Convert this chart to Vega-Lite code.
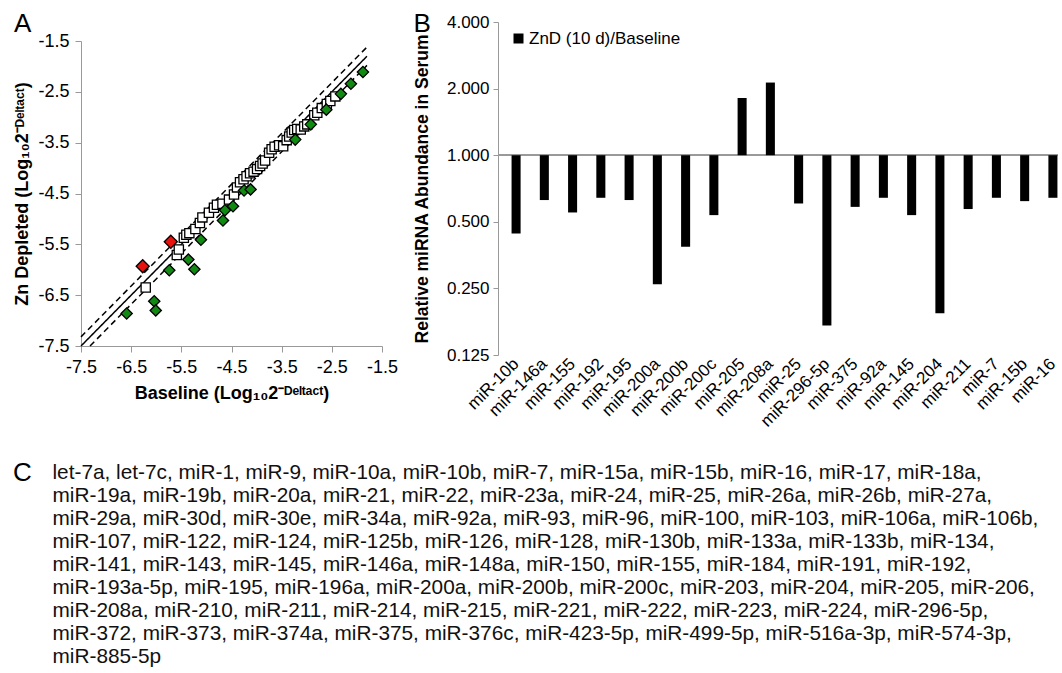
{
  "$schema": "https://vega.github.io/schema/vega-lite/v6.json",
  "padding": {"left": 12, "top": 11, "right": 0, "bottom": 0},
  "config": {
    "font": "Liberation Sans",
    "view": {"stroke": null},
    "axis": {"labelColor": "black", "titleColor": "black", "domainColor": "#999999", "tickColor": "#999999", "grid": false, "labelFont": "Liberation Sans", "titleFont": "Liberation Sans"},
    "title": {"font": "Liberation Sans", "fontWeight": "normal", "color": "black"},
    "text": {"font": "Liberation Sans", "color": "black"}
  },
  "spacing": 30,
  "resolve": {"scale": {"color": "independent"}, "legend": {"color": "independent"}},
  "vconcat": [
    {
      "spacing": 15,
      "resolve": {"scale": {"color": "independent"}, "legend": {"color": "independent"}},
      "hconcat": [
        {
          "width": 301,
          "height": 324,
          "title": {"text": "A", "anchor": "start", "frame": "bounds", "fontSize": 26, "offset": -15},
          "layer": [
            {
              "data": {"values": [
                {"line": "solid", "style": "solid", "bx": -7.5, "zn": -7.5},
                {"line": "solid", "style": "solid", "bx": -1.8, "zn": -1.8},
                {"line": "upper", "style": "dashed", "bx": -7.5, "zn": -7.32},
                {"line": "upper", "style": "dashed", "bx": -1.8, "zn": -1.62},
                {"line": "lower", "style": "dashed", "bx": -7.32, "zn": -7.5},
                {"line": "lower", "style": "dashed", "bx": -1.8, "zn": -1.98}
              ]},
              "mark": {"type": "line", "color": "black", "strokeWidth": 1.5},
              "encoding": {
                "x": {"field": "bx", "type": "quantitative", "scale": {"domain": [-7.5, -1.5], "nice": false, "zero": false},
                  "axis": {"title": "Baseline (Log₁₀2⁻ᴰᵉˡᵗᵃᶜᵗ)", "values": [-7.5, -6.5, -5.5, -4.5, -3.5, -2.5, -1.5], "format": ".1f", "labelExpr": "replace(datum.label, '−', '-')", "labelFontSize": 18, "titleFontSize": 18, "titleFontWeight": "bold", "tickSize": 6, "labelPadding": 6, "titlePadding": 8, "labelFlush": false, "labelOverlap": false}},
                "y": {"field": "zn", "type": "quantitative", "scale": {"domain": [-7.5, -1.5], "range": [324, 19], "nice": false, "zero": false},
                  "axis": {"title": "Zn Depleted (Log₁₀2⁻ᴰᵉˡᵗᵃᶜᵗ)", "values": [-7.5, -6.5, -5.5, -4.5, -3.5, -2.5, -1.5], "format": ".1f", "labelExpr": "replace(datum.label, '−', '-')", "labelFontSize": 18, "titleFontSize": 18, "titleFontWeight": "bold", "tickSize": 6, "labelPadding": 6, "titlePadding": 6, "labelOverlap": false}},
                "detail": {"field": "line"},
                "strokeDash": {"field": "style", "type": "nominal", "scale": {"domain": ["solid", "dashed"], "range": [[1, 0], [6, 4]]}, "legend": null}
              }
            },
            {
              "data": {"values": [
                {"status": "ns", "bx": -6.21, "zn": -6.35},
                {"status": "ns", "bx": -5.59, "zn": -5.71},
                {"status": "ns", "bx": -5.55, "zn": -5.60},
                {"status": "ns", "bx": -5.45, "zn": -5.37},
                {"status": "ns", "bx": -5.40, "zn": -5.31},
                {"status": "ns", "bx": -5.34, "zn": -5.28},
                {"status": "ns", "bx": -5.22, "zn": -5.20},
                {"status": "ns", "bx": -5.13, "zn": -5.08},
                {"status": "ns", "bx": -5.08, "zn": -4.97},
                {"status": "ns", "bx": -4.95, "zn": -4.88},
                {"status": "ns", "bx": -4.85, "zn": -4.78},
                {"status": "ns", "bx": -4.79, "zn": -4.72},
                {"status": "ns", "bx": -4.68, "zn": -4.70},
                {"status": "ns", "bx": -4.55, "zn": -4.62},
                {"status": "ns", "bx": -4.45, "zn": -4.52},
                {"status": "ns", "bx": -4.39, "zn": -4.38},
                {"status": "ns", "bx": -4.33, "zn": -4.28},
                {"status": "ns", "bx": -4.26, "zn": -4.22},
                {"status": "ns", "bx": -4.20, "zn": -4.16},
                {"status": "ns", "bx": -4.13, "zn": -4.10},
                {"status": "ns", "bx": -4.06, "zn": -4.07},
                {"status": "ns", "bx": -3.99, "zn": -4.02},
                {"status": "ns", "bx": -3.93, "zn": -3.96},
                {"status": "ns", "bx": -3.88, "zn": -3.91},
                {"status": "ns", "bx": -3.83, "zn": -3.85},
                {"status": "ns", "bx": -3.75, "zn": -3.70},
                {"status": "ns", "bx": -3.70, "zn": -3.63},
                {"status": "ns", "bx": -3.64, "zn": -3.58},
                {"status": "ns", "bx": -3.55, "zn": -3.55},
                {"status": "ns", "bx": -3.47, "zn": -3.57},
                {"status": "ns", "bx": -3.40, "zn": -3.45},
                {"status": "ns", "bx": -3.35, "zn": -3.38},
                {"status": "ns", "bx": -3.30, "zn": -3.30},
                {"status": "ns", "bx": -3.25, "zn": -3.25},
                {"status": "ns", "bx": -3.19, "zn": -3.23},
                {"status": "ns", "bx": -3.12, "zn": -3.24},
                {"status": "ns", "bx": -3.05, "zn": -3.18},
                {"status": "ns", "bx": -2.99, "zn": -3.14},
                {"status": "ns", "bx": -2.85, "zn": -2.96},
                {"status": "ns", "bx": -2.79, "zn": -2.91},
                {"status": "ns", "bx": -2.70, "zn": -2.82},
                {"status": "ns", "bx": -2.60, "zn": -2.74},
                {"status": "ns", "bx": -2.53, "zn": -2.68},
                {"status": "ns", "bx": -2.43, "zn": -2.59},
                {"status": "down", "bx": -6.59, "zn": -6.86},
                {"status": "down", "bx": -6.04, "zn": -6.62},
                {"status": "down", "bx": -6.01, "zn": -6.80},
                {"status": "down", "bx": -5.74, "zn": -6.01},
                {"status": "down", "bx": -5.36, "zn": -5.80},
                {"status": "down", "bx": -5.24, "zn": -5.99},
                {"status": "down", "bx": -5.11, "zn": -5.41},
                {"status": "down", "bx": -4.67, "zn": -5.03},
                {"status": "down", "bx": -4.63, "zn": -4.83},
                {"status": "down", "bx": -4.47, "zn": -4.75},
                {"status": "down", "bx": -4.25, "zn": -4.44},
                {"status": "down", "bx": -4.12, "zn": -4.42},
                {"status": "down", "bx": -3.23, "zn": -3.44},
                {"status": "down", "bx": -2.92, "zn": -3.14},
                {"status": "down", "bx": -2.61, "zn": -2.85},
                {"status": "down", "bx": -2.32, "zn": -2.54},
                {"status": "down", "bx": -2.12, "zn": -2.34},
                {"status": "down", "bx": -1.88, "zn": -2.11},
                {"status": "up", "bx": -6.27, "zn": -5.93},
                {"status": "up", "bx": -5.71, "zn": -5.45}
              ]},
              "mark": {"type": "point", "filled": true, "stroke": "black", "strokeWidth": 1.3, "opacity": 1},
              "encoding": {
                "x": {"field": "bx", "type": "quantitative"},
                "y": {"field": "zn", "type": "quantitative"},
                "shape": {"field": "status", "type": "nominal", "scale": {"domain": ["ns", "down", "up"], "range": ["square", "diamond", "diamond"]}, "legend": null},
                "fill": {"field": "status", "type": "nominal", "scale": {"domain": ["ns", "down", "up"], "range": ["#ffffff", "#118a11", "#e8130f"]}, "legend": null},
                "size": {"field": "status", "type": "nominal", "scale": {"domain": ["ns", "down", "up"], "range": [85, 170, 170]}, "legend": null}
              }
            }
          ]
        },
        {
          "width": 560,
          "height": 333,
          "title": {"text": "B", "anchor": "start", "frame": "bounds", "fontSize": 26, "offset": -24},
          "data": {"values": [
            {"mirna": "miR-10b", "ratio": 0.443},
            {"mirna": "miR-146a", "ratio": 0.627},
            {"mirna": "miR-155", "ratio": 0.551},
            {"mirna": "miR-192", "ratio": 0.642},
            {"mirna": "miR-195", "ratio": 0.627},
            {"mirna": "miR-200a", "ratio": 0.261},
            {"mirna": "miR-200b", "ratio": 0.386},
            {"mirna": "miR-200c", "ratio": 0.536},
            {"mirna": "miR-205", "ratio": 1.814},
            {"mirna": "miR-208a", "ratio": 2.13},
            {"mirna": "miR-25", "ratio": 0.605},
            {"mirna": "miR-296-5p", "ratio": 0.170},
            {"mirna": "miR-375", "ratio": 0.584},
            {"mirna": "miR-92a", "ratio": 0.642},
            {"mirna": "miR-145", "ratio": 0.536},
            {"mirna": "miR-204", "ratio": 0.193},
            {"mirna": "miR-211", "ratio": 0.571},
            {"mirna": "miR-7", "ratio": 0.642},
            {"mirna": "miR-15b", "ratio": 0.620},
            {"mirna": "miR-16", "ratio": 0.642}
          ]},
          "layer": [
            {
              "mark": {"type": "rule", "color": "#999999", "strokeWidth": 1.5},
              "encoding": {"y": {"datum": 1, "type": "quantitative"}}
            },
            {
              "mark": {"type": "bar"},
              "encoding": {
                "x": {"field": "mirna", "type": "nominal", "sort": null,
                  "scale": {"paddingInner": 0.68, "paddingOuter": 0.25, "align": 0.96},
                  "axis": {"title": null, "labelAngle": -45, "labelAlign": "right", "labelBaseline": "middle", "labelFontSize": 17, "domain": false, "ticks": false, "labelPadding": 6}},
                "y": {"field": "ratio", "type": "quantitative",
                  "scale": {"type": "log", "base": 2, "domain": [0.125, 4], "nice": false},
                  "axis": {"title": "Relative miRNA Abundance in Serum", "titleFontSize": 17.5, "titleFontWeight": "bold", "values": [0.125, 0.25, 0.5, 1, 2, 4], "format": ".3f", "labelFontSize": 17, "tickSize": 5, "labelPadding": 4, "titlePadding": 15}},
                "y2": {"datum": 1},
                "color": {"datum": "ZnD (10 d)/Baseline", "type": "nominal", "scale": {"range": ["black"]},
                  "legend": {"title": null, "orient": "none", "legendX": 12, "legendY": 8, "symbolType": "square", "symbolSize": 100, "symbolStrokeWidth": 0, "labelFontSize": 17, "labelOffset": 2, "padding": 0, "labelColor": "black"}}
              }
            }
          ]
        }
      ]
    },
    {
      "width": 950,
      "height": 184,
      "layer": [
        {
          "data": {"values": [
            {"line": 1, "text": "let-7a, let-7c, miR-1, miR-9, miR-10a, miR-10b, miR-7, miR-15a, miR-15b, miR-16, miR-17, miR-18a,"},
            {"line": 2, "text": "miR-19a, miR-19b, miR-20a, miR-21, miR-22, miR-23a, miR-24, miR-25, miR-26a, miR-26b, miR-27a,"},
            {"line": 3, "text": "miR-29a, miR-30d, miR-30e, miR-34a, miR-92a, miR-93, miR-96, miR-100, miR-103, miR-106a, miR-106b,"},
            {"line": 4, "text": "miR-107, miR-122, miR-124, miR-125b, miR-126, miR-128, miR-130b, miR-133a, miR-133b, miR-134,"},
            {"line": 5, "text": "miR-141, miR-143, miR-145, miR-146a, miR-148a, miR-150, miR-155, miR-184, miR-191, miR-192,"},
            {"line": 6, "text": "miR-193a-5p, miR-195, miR-196a, miR-200a, miR-200b, miR-200c, miR-203, miR-204, miR-205, miR-206,"},
            {"line": 7, "text": "miR-208a, miR-210, miR-211, miR-214, miR-215, miR-221, miR-222, miR-223, miR-224, miR-296-5p,"},
            {"line": 8, "text": "miR-372, miR-373, miR-374a, miR-375, miR-376c, miR-423-5p, miR-499-5p, miR-516a-3p, miR-574-3p,"},
            {"line": 9, "text": "miR-885-5p"}
          ]},
          "mark": {"type": "text", "align": "left", "baseline": "middle", "fontSize": 20.8, "color": "#111111"},
          "encoding": {
            "x": {"datum": -0.030, "type": "quantitative", "scale": {"domain": [0, 1]}, "axis": null},
            "y": {"field": "line", "type": "ordinal", "scale": {"type": "point", "padding": 0}, "axis": null},
            "text": {"field": "text"}
          }
        },
        {
          "data": {"values": [{"line": 1, "label": "C"}]},
          "mark": {"type": "text", "align": "left", "baseline": "middle", "fontSize": 26},
          "encoding": {
            "x": {"datum": -0.0716, "type": "quantitative"},
            "y": {"field": "line", "type": "ordinal"},
            "text": {"field": "label"}
          }
        }
      ]
    }
  ]
}
